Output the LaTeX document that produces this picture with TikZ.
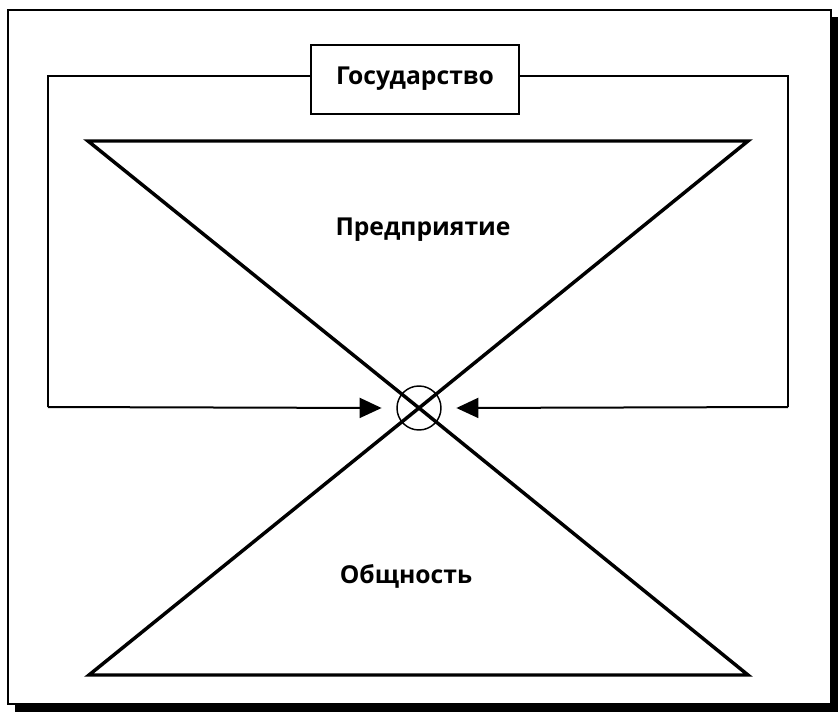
\documentclass[tikz,border=0pt]{standalone}
\usepackage{fontspec}
\setmainfont{Open Sans}
\usetikzlibrary{arrows.meta}
\begin{document}
\begin{tikzpicture}[x=0.75pt,y=-0.75pt,
  loopline/.style={line width=1.5pt},
  triline/.style={line width=2.6pt,line join=miter},
  label/.style={font=\fontsize{18.5}{22}\selectfont\bfseries},
  tip/.style={-{Triangle[length=16.5pt,width=15pt]}}]
\useasboundingbox (0,0) rectangle (840,714);
% frame with shadow
\fill[black] (15,17) rectangle (838,712);
\draw[fill=white,line width=1.5pt] (8,10) rectangle (831,704);
% key points
\coordinate (tl) at (48,76);
\coordinate (tr) at (788,76);
\coordinate (bl) at (48,407);
\coordinate (br) at (788,407);
\coordinate (t1) at (88,141);
\coordinate (t2) at (748,141);
\coordinate (b1) at (89,675);
\coordinate (b2) at (748,675);
\node[draw,circle,minimum size=44*0.75pt,inner sep=0pt,line width=1.1pt] (c) at (419,408) {};
% triangles
\draw[triline] (t1) -- (t2) -- (c.center) -- cycle;
\draw[triline] (b1) -- (b2) -- (c.center) -- cycle;
% state box and loop
\node[draw,line width=1.5pt,fill=white,minimum width=208*0.75pt,minimum height=69*0.75pt,label] (gos) at (415,79) {Государство};
\draw[loopline] (gos.west |- tl) -- (tl) -- (bl);
\draw[loopline] (gos.east |- tr) -- (tr) -- (br);
\draw[loopline,tip] (bl) -- ([xshift=-11pt]c.west);
\draw[loopline,tip] (br) -- ([xshift=11pt]c.east);
% labels
\node[label] (pr) at (423,230) {Предприятие};
\node[label] (ob) at (406,576) {Общность};
\end{tikzpicture}
\end{document}
